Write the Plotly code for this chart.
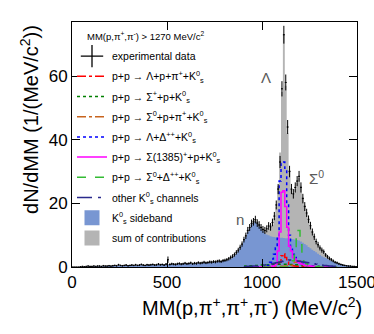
import numpy as np
import plotly.graph_objects as go

# 10 MeV/c2 bins, 0 .. 1500
bin_width = 10
bin_lo = 0
bin_hi = 1500

data_y = [
    0, 0, 0, 0, 0.1, 0.2, 0.1, 0.2, 0.3, 0.2,
    0.2, 0.3, 0.2, 0.3, 0.3, 0.2, 0.4, 0.3, 0.3, 0.4,
    0.3, 0.4, 0.5, 0.4, 0.7, 0.5, 0.4, 0.5, 0.6, 0.4,
    0.5, 0.6, 0.5, 0.7, 0.5, 0.6, 0.8, 0.6, 0.5, 0.7,
    0.6, 0.7, 0.8, 0.6, 0.7, 0.9, 0.7, 0.8, 0.6, 0.9,
    2.3, 0.8, 1.0, 0.9, 0.8, 1.0, 1.1, 0.9, 1.0, 1.2,
    1.0, 1.1, 1.3, 1.0, 1.2, 1.1, 1.4, 1.2, 1.3, 1.5,
    1.3, 1.4, 1.6, 1.5, 1.7, 1.6, 1.8, 1.9, 1.7, 2.0,
    2.1, 2.3, 2.6, 3.0, 3.4, 3.9, 4.6, 5.3, 6.2, 7.2,
    8.6, 9.8, 11.5, 12.4, 13.7, 14.2, 14.9, 13.8, 13.2, 12.4,
    11.8, 11.5, 12.0, 12.9, 12.6, 14.0, 16.0, 19.5, 24.5, 33.0,
    56.0, 73.0, 58.0, 44.0, 30.0, 24.5, 23.0, 25.0, 27.0, 28.5,
    25.0, 21.5, 19.0, 17.0, 15.0, 13.0, 11.0, 9.5, 8.0, 7.0,
    6.0, 5.3, 4.8, 3.8, 3.2, 2.7, 2.3, 1.9, 1.5, 1.3,
    1.0, 0.8, 0.6, 0.5, 0.4, 0.3, 0.3, 0.2, 0.2, 0.1,
]
data_err = [
    0, 0, 0, 0, 0.1, 0.15, 0.1, 0.15, 0.2, 0.15,
    0.15, 0.2, 0.15, 0.2, 0.2, 0.15, 0.25, 0.2, 0.2, 0.25,
    0.2, 0.25, 0.25, 0.25, 0.3, 0.25, 0.25, 0.25, 0.3, 0.25,
    0.25, 0.3, 0.25, 0.3, 0.25, 0.3, 0.3, 0.3, 0.25, 0.3,
    0.3, 0.3, 0.3, 0.3, 0.3, 0.35, 0.3, 0.3, 0.3, 0.35,
    1.0, 0.35, 0.35, 0.35, 0.35, 0.35, 0.4, 0.35, 0.35, 0.4,
    0.35, 0.4, 0.4, 0.35, 0.4, 0.4, 0.4, 0.4, 0.4, 0.45,
    0.4, 0.4, 0.45, 0.45, 0.45, 0.45, 0.45, 0.5, 0.45, 0.5,
    0.5, 0.5, 0.55, 0.6, 0.6, 0.65, 0.7, 0.75, 0.8, 0.85,
    0.9, 1.0, 1.1, 1.1, 1.2, 1.2, 1.2, 1.2, 1.2, 1.1,
    1.1, 1.1, 1.1, 1.2, 1.2, 1.2, 1.3, 1.4, 1.6, 1.9,
    2.4, 2.8, 2.5, 2.2, 1.8, 1.6, 1.5, 1.6, 1.6, 1.7,
    1.6, 1.5, 1.4, 1.3, 1.2, 1.2, 1.1, 1.0, 0.9, 0.9,
    0.8, 0.8, 0.7, 0.6, 0.6, 0.55, 0.5, 0.45, 0.4, 0.4,
    0.35, 0.3, 0.3, 0.25, 0.2, 0.2, 0.2, 0.15, 0.15, 0.1,
]
sideband_y = [
    0, 0, 0, 0, 0.05, 0.1, 0.1, 0.1, 0.15, 0.15,
    0.15, 0.2, 0.2, 0.2, 0.2, 0.25, 0.25, 0.25, 0.3, 0.3,
    0.3, 0.3, 0.35, 0.35, 0.4, 0.4, 0.4, 0.4, 0.45, 0.45,
    0.45, 0.5, 0.5, 0.5, 0.5, 0.55, 0.55, 0.55, 0.6, 0.6,
    0.6, 0.6, 0.65, 0.65, 0.65, 0.7, 0.7, 0.7, 0.75, 0.75,
    0.8, 0.8, 0.8, 0.85, 0.85, 0.9, 0.9, 0.9, 0.95, 1.0,
    1.0, 1.0, 1.05, 1.1, 1.1, 1.15, 1.2, 1.2, 1.25, 1.3,
    1.3, 1.35, 1.4, 1.45, 1.5, 1.55, 1.6, 1.7, 1.75, 1.85,
    1.95, 2.1, 2.3, 2.6, 3.0, 3.5, 4.2, 5.0, 5.9, 7.0,
    8.3, 9.5, 11.0, 12.0, 13.2, 13.8, 14.3, 13.6, 12.8, 12.0,
    11.3, 10.6, 10.2, 10.0, 9.7, 9.5, 9.4, 9.3, 9.3, 9.2,
    9.2, 9.1, 9.0, 9.0, 8.9, 8.8, 8.7, 8.6, 8.5, 8.3,
    8.0, 7.6, 7.2, 6.8, 6.3, 5.9, 5.4, 5.0, 4.6, 4.2,
    3.8, 3.4, 3.1, 2.8, 2.5, 2.2, 1.9, 1.7, 1.4, 1.2,
    1.0, 0.85, 0.7, 0.6, 0.5, 0.4, 0.3, 0.25, 0.2, 0.1,
]
sum_y = [
    0, 0, 0, 0, 0.05, 0.1, 0.1, 0.15, 0.2, 0.2,
    0.2, 0.25, 0.25, 0.25, 0.3, 0.3, 0.3, 0.3, 0.35, 0.35,
    0.35, 0.4, 0.4, 0.4, 0.45, 0.45, 0.45, 0.5, 0.5, 0.5,
    0.5, 0.55, 0.55, 0.6, 0.6, 0.6, 0.65, 0.65, 0.65, 0.7,
    0.7, 0.7, 0.75, 0.75, 0.8, 0.8, 0.8, 0.85, 0.85, 0.9,
    0.9, 0.9, 0.95, 0.95, 1.0, 1.0, 1.05, 1.05, 1.1, 1.1,
    1.15, 1.15, 1.2, 1.2, 1.25, 1.3, 1.3, 1.35, 1.4, 1.45,
    1.45, 1.5, 1.55, 1.6, 1.65, 1.7, 1.8, 1.85, 1.9, 2.0,
    2.1, 2.25, 2.45, 2.75, 3.15, 3.65, 4.35, 5.2, 6.1, 7.2,
    8.6, 9.9, 11.5, 12.6, 13.8, 14.5, 15.0, 14.3, 13.5, 12.8,
    12.1, 11.6, 11.5, 11.9, 12.3, 13.2, 15.3, 19.0, 25.5, 36.0,
    55.0, 73.0, 57.0, 42.0, 30.5, 24.5, 23.0, 24.5, 26.5, 28.0,
    25.5, 22.0, 19.5, 17.0, 15.0, 13.0, 11.2, 9.6, 8.2, 7.0,
    6.0, 5.2, 4.6, 3.9, 3.3, 2.8, 2.3, 1.9, 1.6, 1.3,
    1.05, 0.85, 0.7, 0.6, 0.5, 0.4, 0.3, 0.25, 0.2, 0.1,
]

# simulated channels, 10 MeV/c2 bins from 900 to 1400
chan_lo = 900
chan_hi = 1400
lam_p_pip = [
    0, 0, 0, 0, 0, 0, 0, 0, 0, 0,
    0, 0, 0.1, 0.1, 0.2, 0.3, 0.4, 0.6, 0.9, 1.5,
    3.5, 4.2, 3.0, 1.6, 0.9, 0.6, 0.4, 0.3, 0.2, 0.2,
    0.1, 0.1, 0.1, 0.1, 0, 0, 0, 0, 0, 0,
    0, 0, 0, 0, 0, 0, 0, 0, 0, 0,
]
sigp_p = [
    0.2, 0.3, 0.3, 0.4, 0.4, 0.5, 0.5, 0.5, 0.6, 0.6,
    0.6, 0.7, 0.7, 0.7, 0.8, 0.8, 0.8, 0.8, 0.9, 0.9,
    0.9, 0.9, 0.9, 0.9, 0.8, 0.8, 0.8, 0.7, 0.7, 0.6,
    0.6, 0.5, 0.5, 0.4, 0.4, 0.3, 0.3, 0.2, 0.2, 0.2,
    0.1, 0.1, 0.1, 0.1, 0.1, 0, 0, 0, 0, 0,
]
sig0_p_pip = [
    0, 0, 0, 0, 0, 0, 0, 0, 0, 0,
    0, 0, 0, 0, 0, 0, 0, 0, 0.1, 0.1,
    0.2, 0.2, 0.3, 0.3, 0.4, 0.5, 1.0, 1.5, 2.0, 2.0,
    1.4, 0.8, 0.4, 0.3, 0.2, 0.1, 0.1, 0, 0, 0,
    0, 0, 0, 0, 0, 0, 0, 0, 0, 0,
]
lam_dpp = [
    0, 0, 0, 0, 0, 0, 0, 0, 0, 0,
    0, 0.1, 0.2, 0.5, 1.5, 2.5, 4.0, 6.0, 9.0, 27.0,
    32.5, 33.0, 31.0, 20.0, 10.0, 6.0, 4.0, 3.0, 2.2, 1.6,
    1.2, 0.9, 0.7, 0.5, 0.4, 0.3, 0.2, 0.2, 0.1, 0.1,
    0, 0, 0, 0, 0, 0, 0, 0, 0, 0,
]
sig1385_p = [
    0, 0, 0, 0, 0, 0, 0, 0, 0, 0,
    0, 0, 0, 0, 0.1, 0.2, 0.4, 1.0, 5.0, 11.0,
    23.5, 24.0, 19.0, 12.5, 6.5, 5.0, 3.0, 2.5, 1.8, 1.3,
    1.0, 0.8, 0.6, 0.5, 0.4, 0.3, 0.2, 0.2, 0.1, 0.1,
    0, 0, 0, 0, 0, 0, 0, 0, 0, 0,
]
sig0_dpp = [
    0, 0, 0, 0, 0, 0, 0, 0, 0, 0,
    0, 0, 0, 0, 0, 0, 0, 0, 0, 0,
    0, 0, 0, 0, 0.2, 0.5, 2.0, 5.0, 10.0, 11.5,
    7.0, 3.0, 1.5, 1.0, 0.7, 0.5, 0.3, 0.2, 0.1, 0.1,
    0, 0, 0, 0, 0, 0, 0, 0, 0, 0,
]
other_k0 = [
    0.1, 0.1, 0.2, 0.2, 0.2, 0.3, 0.3, 0.3, 0.4, 0.4,
    0.5, 0.6, 0.7, 0.8, 0.9, 1.0, 1.2, 1.3, 1.4, 1.6,
    1.7, 1.9, 2.0, 2.1, 2.2, 2.2, 2.1, 2.0, 1.9, 1.8,
    1.7, 1.6, 1.5, 1.4, 1.3, 1.2, 1.1, 1.0, 0.9, 0.8,
    0.7, 0.6, 0.5, 0.5, 0.4, 0.3, 0.3, 0.2, 0.2, 0.1,
]

K0 = "K<sup>0</sup><sub>s</sub>"
channels = [
    ("p+p \u2192 \u039b+p+\u03c0<sup>+</sup>+" + K0, lam_p_pip, "#ff0000", "dashdot"),
    ("p+p \u2192 \u03a3<sup>+</sup>+p+" + K0, sigp_p, "#008000", "dot"),
    ("p+p \u2192 \u03a3<sup>0</sup>+p+\u03c0<sup>+</sup>+" + K0, sig0_p_pip, "#c8641e", "dashdot"),
    ("p+p \u2192 \u039b+\u0394<sup>++</sup>+" + K0, lam_dpp, "#0000ff", "dot"),
    ("p+p \u2192 \u03a3(1385)<sup>+</sup>+p+" + K0, sig1385_p, "#ff00ff", "solid"),
    ("p+p \u2192 \u03a3<sup>0</sup>+\u0394<sup>++</sup>+" + K0, sig0_dpp, "#33bb33", "dash"),
    ("other " + K0 + " channels", other_k0, "#2a2a8c", "longdashdot"),
]

x = np.arange(bin_lo, bin_hi, bin_width) + bin_width / 2
xc = np.arange(chan_lo, chan_hi, bin_width) + bin_width / 2

gray = "rgb(180,180,180)"
sb_blue = "rgb(120,150,210)"

fig = go.Figure()

fig.add_trace(go.Scatter(x=x, y=sum_y, mode="lines", line=dict(width=0, shape="hvh"),
                         fill="tozeroy", fillcolor=gray, showlegend=False))
fig.add_trace(go.Scatter(x=x, y=sideband_y, mode="lines", line=dict(width=0, shape="hvh"),
                         fill="tozeroy", fillcolor=sb_blue, showlegend=False))

for i, (name, vals, col, dash) in enumerate(channels):
    fig.add_trace(go.Scatter(x=xc, y=vals, mode="lines", name=name,
                             line=dict(color=col, dash=dash, width=1.5, shape="hvh"),
                             legendrank=2 + i, legendgroup="ch%d" % i))

fig.add_trace(go.Scatter(x=x, y=data_y, mode="markers", marker=dict(size=1, color="black"),
                         error_y=dict(type="data", array=data_err, color="black", thickness=1, width=0),
                         error_x=dict(type="constant", value=bin_width / 2, color="black", thickness=1, width=0),
                         showlegend=False))

# legend-only entries (off-range points)
fig.add_trace(go.Scatter(x=[-100], y=[-100], mode="markers", name="experimental data",
                         marker=dict(symbol="cross-thin", size=16, line=dict(width=1.3, color="black")),
                         legendrank=1, legendgroup="data"))
fig.add_trace(go.Scatter(x=[-100], y=[-100], mode="markers", name=K0 + " sideband",
                         marker=dict(symbol="square", size=15, color=sb_blue, line=dict(width=0)),
                         legendrank=9, legendgroup="sb"))
fig.add_trace(go.Scatter(x=[-100], y=[-100], mode="markers", name="sum of contributions",
                         marker=dict(symbol="square", size=15, color=gray, line=dict(width=0)),
                         legendrank=10, legendgroup="sum"))

fig.add_annotation(x=70, y=72.5, xanchor="left", yanchor="middle",
                   text="MM(p,\u03c0<sup>+</sup>,\u03c0<sup>-</sup>) > 1270 MeV/c<sup>2</sup>",
                   showarrow=False, font=dict(size=9.5, color="black"))
fig.add_annotation(x=1023, y=59.5, text="\u039b", showarrow=False,
                   font=dict(size=15, color="rgb(90,90,90)"))
fig.add_annotation(x=1285, y=28, text="\u03a3<sup>0</sup>", showarrow=False,
                   font=dict(size=15, color="rgb(90,90,90)"))
fig.add_annotation(x=885, y=15, text="n", showarrow=False,
                   font=dict(size=15, color="rgb(90,90,90)"))

# axis titles sit toward the far end of each axis
fig.add_annotation(x=0.633, y=-0.162, xref="paper", yref="paper", showarrow=False,
                   xanchor="center", yanchor="middle",
                   text="MM(p,\u03c0<sup>+</sup>,\u03c0<sup>+</sup>,\u03c0<sup>-</sup>) (MeV/c<sup>2</sup>)",
                   font=dict(size=20))
fig.add_annotation(x=-0.151, y=0.604, xref="paper", yref="paper", showarrow=False, textangle=-90,
                   xanchor="center", yanchor="middle",
                   text="dN/dMM (1/(MeV/c<sup>2</sup>))", font=dict(size=20))

axis_style = dict(showline=True, linecolor="black", linewidth=1, mirror="ticks",
                  ticks="inside", ticklen=8, tickwidth=1, tickcolor="black",
                  showgrid=False, zeroline=False, tickfont=dict(size=17),
                  automargin=False, ticklabeloverflow="allow")

fig.update_layout(
    template="none",
    width=374, height=334,
    margin=dict(l=72, r=17, t=22, b=67),
    plot_bgcolor="white", paper_bgcolor="white",
    font=dict(family="Liberation Sans, Arial, sans-serif", color="black"),
    xaxis=dict(range=[0, 1500], tickvals=[0, 500, 1000, 1500], **axis_style),
    yaxis=dict(range=[0, 77], tickvals=[0, 20, 40, 60], **axis_style),
    legend=dict(x=0.0, y=0.92, xanchor="left", yanchor="top", bgcolor="rgba(0,0,0,0)",
                font=dict(size=10.5), tracegroupgap=1.2, itemwidth=30),
    showlegend=True,
)

# the page body has an 8px default margin; drop it so the figure sits at the corner
fig.write_html("out.html", config={"displayModeBar": False},
               post_script="document.body.style.margin='0';")
